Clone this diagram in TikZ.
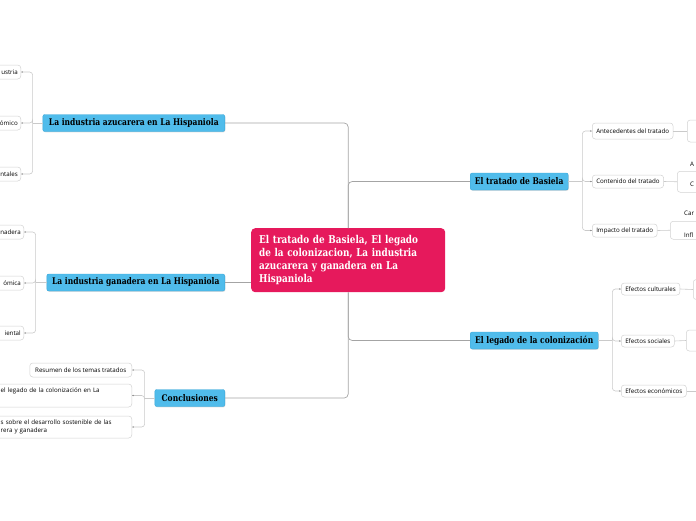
\documentclass[tikz,border=0pt]{standalone}
\usepackage{fontspec}
\setsansfont{Open Sans}
\newfontfamily\slabfont[FakeStretch=0.82]{DejaVu Serif}
\usetikzlibrary{shadows,arrows.meta}

\definecolor{rootpink}{HTML}{E6195C}
\definecolor{topicblue}{HTML}{50BCEB}
\definecolor{topicedge}{HTML}{3AA6D8}
\definecolor{leafedge}{HTML}{D2D2D2}
\definecolor{linkgray}{HTML}{A4A4A4}
\definecolor{leafgray}{HTML}{CACACA}

\tikzset{
  root/.style={fill=rootpink, rounded corners=4pt, text=white,
    font=\slabfont\bfseries\fontsize{10.8}{13}\selectfont, align=left,
    text width=178pt, minimum height=64pt, inner xsep=8pt},
  topic/.style={fill=topicblue, draw=topicedge, line width=0.4pt, rounded corners=2pt,
    font=\slabfont\bfseries\fontsize{9.2}{10}\selectfont, minimum height=17pt, inner sep=0pt,
    drop shadow={shadow xshift=0.6pt, shadow yshift=-0.8pt, opacity=0.25}},
  leaf/.style={draw=leafedge, fill=white, line width=0.5pt, rounded corners=3pt,
    font=\sffamily\fontsize{6.2}{8}\selectfont, minimum height=14pt, inner xsep=4pt, inner ysep=0pt},
  bare/.style={font=\sffamily\fontsize{6.2}{7}\selectfont, inner sep=0pt},
  branch/.style={draw=linkgray, line width=0.7pt, rounded corners=4pt},
  stub/.style={draw=leafgray, line width=0.6pt},
  twig/.style={draw=leafgray, line width=0.6pt, rounded corners=3pt,
    -{Latex[length=1.6pt,width=1.6pt,color=gray]}},
}

\begin{document}
\begin{tikzpicture}[x=1pt,y=-1pt]
\useasboundingbox (0,0) rectangle (696,520);
\clip (0,0) rectangle (696,520);

% central topic
\node[root, anchor=north west] (root) at (251,228)
  {El tratado de Basiela, El legado\\de la colonizacion, La industria\\azucarera y ganadera en La\\Hispaniola};

% main topics
\node[topic, minimum width=182pt, anchor=east] (azu) at (225,123) {La industria azucarera en La Hispaniola};
\node[topic, minimum width=178pt, anchor=east] (gan) at (225,282.5) {La industria ganadera en La Hispaniola};
\node[topic, minimum width=70pt, anchor=east] (con) at (225,398) {Conclusiones};
\node[topic, minimum width=98pt, anchor=west] (tra) at (470,181.5) {El tratado de Basiela};
\node[topic, minimum width=128pt, anchor=west] (leg) at (470,340.5) {El legado de la colonización};

\draw[branch] (azu.east) -| (root.north);
\draw[branch] (root.north) |- (tra.west);
\draw[branch] (gan.east) -- (gan.east -| root.west);
\draw[branch] (con.east) -| (root.south);
\draw[branch] (root.south) |- (leg.west);

% azucarera
\node[leaf, anchor=east, text width=46pt, align=right, inner xsep=3pt] (azu1) at (21,72) {ustria};
\node[leaf, anchor=east, text width=46pt, align=right, inner xsep=3pt] (azu2) at (21,123) {ómico};
\node[leaf, anchor=east, text width=46pt, align=right, inner xsep=3pt] (azu3) at (21,174) {ntales};
\coordinate (azuB) at ([xshift=-10pt]azu.west);
\draw[stub] (azu.west) -- (azuB);
\foreach \k in {1,2,3}
  \draw[twig] (azuB) |- (azu\k.east);

% ganadera
\node[leaf, anchor=east, text width=46pt, align=right, inner xsep=3pt] (gan1) at (24,232) {nadera};
\node[leaf, anchor=east, text width=46pt, align=right, inner xsep=3pt] (gan2) at (24,283) {ómica};
\node[leaf, anchor=east, text width=46pt, align=right, inner xsep=3pt] (gan3) at (24,333) {iental};
\coordinate (ganB) at ([xshift=-11pt]gan.west);
\draw[stub] (gan.west) -- (ganB);
\foreach \k in {1,2,3}
  \draw[twig] (ganB) |- (gan\k.east);

% conclusiones
\node[leaf, anchor=east, minimum width=102pt] (con1) at (132,370) {Resumen de los temas tratados};
\node[leaf, anchor=east, text width=127pt, align=left, minimum height=23pt] (con2) at (132,395.5)
  {el legado de la colonización en La\\ \strut};
\node[leaf, anchor=east, text width=127pt, align=left, minimum height=22pt] (con3) at (132,427)
  {s sobre el desarrollo sostenible de las\\rera y ganadera};
\coordinate (conB) at ([xshift=-10pt]con.west);
\draw[stub] (con.west) -- (conB);
\foreach \k in {1,2,3}
  \draw[twig] (conB) |- (con\k.east);

% tratado
\node[leaf, anchor=west, minimum height=16pt] (tra1) at (592,131) {Antecedentes del tratado};
\node[leaf, anchor=west, minimum height=13pt] (tra2) at (592,181.5) {Contenido del tratado};
\node[leaf, anchor=west, minimum height=13pt] (tra3) at (592,230.5) {Impacto del tratado};
\coordinate (traB) at ([xshift=14pt]tra.east);
\draw[stub] (tra.east) -- (traB);
\foreach \k in {1,2,3}
  \draw[twig] (traB) |- (tra\k.west);

\node[leaf, anchor=west, minimum width=30pt, minimum height=22pt] (ant1) at (687,131) {};
\node[leaf, anchor=north west, minimum width=40pt, minimum height=21pt] (cnt1) at (677,171) {};
\node[bare, anchor=west] (cntA) at (690,164) {A};
\node[bare, anchor=west] (cntC) at (690,184) {C};
\node[leaf, anchor=north west, minimum width=40pt, minimum height=18pt] (imp1) at (670,221) {};
\node[bare, anchor=west] (impA) at (684,213) {Car};
\node[bare, anchor=west] (impB) at (684,235) {Infl};
\draw[stub] (tra1.east) -- (ant1.west);
\draw[stub] (tra2.east) -- (cnt1.west);
\draw[stub] (tra3.east) -- (imp1.west);

% legado
\node[leaf, anchor=west, minimum height=12pt] (leg1) at (621,289) {Efectos culturales};
\node[leaf, anchor=west, minimum height=12pt] (leg2) at (621,341) {Efectos sociales};
\node[leaf, anchor=west, minimum height=12pt] (leg3) at (621,391) {Efectos económicos};
\coordinate (legB) at ([xshift=14pt]leg.east);
\draw[stub] (leg.east) -- (legB);
\foreach \k in {1,2,3}
  \draw[twig] (legB) |- (leg\k.west);

\node[leaf, anchor=west, minimum width=20pt, minimum height=20pt] (cul1) at (693,289.5) {};
\node[leaf, anchor=west, minimum width=30pt, minimum height=21pt] (soc1) at (686,340.5) {};
\coordinate (eco1) at (700,391);
\draw[stub] (leg1.east) -- (cul1.west);
\draw[stub] (leg2.east) -- (soc1.west);
\draw[stub] (leg3.east) -- (eco1);
\end{tikzpicture}
\end{document}
